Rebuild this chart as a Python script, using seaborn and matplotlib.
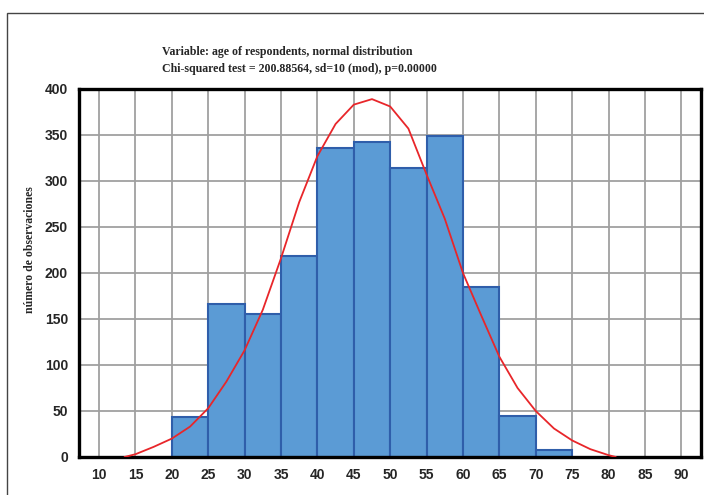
import numpy as np
import matplotlib
matplotlib.use("Agg")
import matplotlib.pyplot as plt
from matplotlib.patches import Rectangle
import seaborn as sns

# Histogram counts per 5-year age bin
bin_edges = [20, 25, 30, 35, 40, 45, 50, 55, 60, 65, 70, 75]
bin_counts = [43, 166, 155, 219, 336, 342, 314, 349, 185, 45, 8]

# Fitted normal curve
curve_x = [13.5, 15, 17.5, 20, 22.5, 25, 27.5, 30, 32.5, 35, 37.5, 40, 42.5, 45,
           47.5, 50, 52.5, 55, 57.5, 60, 62.5, 65, 67.5, 70, 72.5, 75, 77.5, 80, 81]
curve_y = [0, 3, 11, 20, 33, 53, 82, 116, 160, 216, 277, 327, 362, 383,
           389, 381, 357, 307, 259, 200, 154, 109, 75, 50, 31, 18, 8.5, 2, 0]

x_ticks = list(range(10, 95, 5))
y_ticks = list(range(0, 450, 50))

title_lines = ["Variable: age of respondents, normal distribution",
               "Chi-squared test = 200.88564, sd=10 (mod), p=0.00000"]
ylabel = "número de observaciones"

sns.set_theme(style="white")
plt.rcParams["font.family"] = ["Liberation Sans", "DejaVu Sans"]

fig = plt.figure(figsize=(7.04, 4.95), dpi=100)
ax = fig.add_axes([79 / 704, 1 - 457 / 495, 622 / 704, 368 / 495])

centers = [(a + b) / 2 for a, b in zip(bin_edges[:-1], bin_edges[1:])]
sns.histplot(x=centers, weights=bin_counts, bins=bin_edges, ax=ax,
             color="#5B9BD5", alpha=1, edgecolor="#2F5EAA", linewidth=1.5,
             zorder=2)
sns.lineplot(x=curve_x, y=curve_y, ax=ax, color="#E8262A", linewidth=1.3,
             zorder=3, sort=True)

ax.set_xlim(7.25, 92.7)
ax.set_ylim(0, 400)
ax.set_xticks(x_ticks)
ax.set_yticks(y_ticks)
ax.grid(True, color="#A0A0A0", linewidth=1.3, zorder=0)
ax.set_axisbelow(True)
ax.tick_params(length=0, pad=8, labelsize=10)
for lab in ax.get_xticklabels() + ax.get_yticklabels():
    lab.set_fontweight("bold")
for sp in ax.spines.values():
    sp.set_color("black")
    sp.set_linewidth(2.4)
ax.set_xlabel("")
ax.set_ylabel("")

fig.text(30 / 704, 1 - 250 / 495, ylabel, rotation=90, ha="center", va="center",
         family="Liberation Serif", fontweight="bold", fontsize=8.5)
for line, base in zip(title_lines, [55, 72]):
    fig.text(162 / 704, 1 - base / 495, line, ha="left", va="baseline",
             family="Liberation Serif", fontweight="bold", fontsize=8.6)

# thin frame around the figure
fig.patches.append(Rectangle((7 / 704, -0.01), 1.0, 1 - 13 / 495 + 0.01,
                             transform=fig.transFigure, fill=False,
                             edgecolor="#444444", linewidth=1.0))

fig.savefig("out.png", dpi=100)
